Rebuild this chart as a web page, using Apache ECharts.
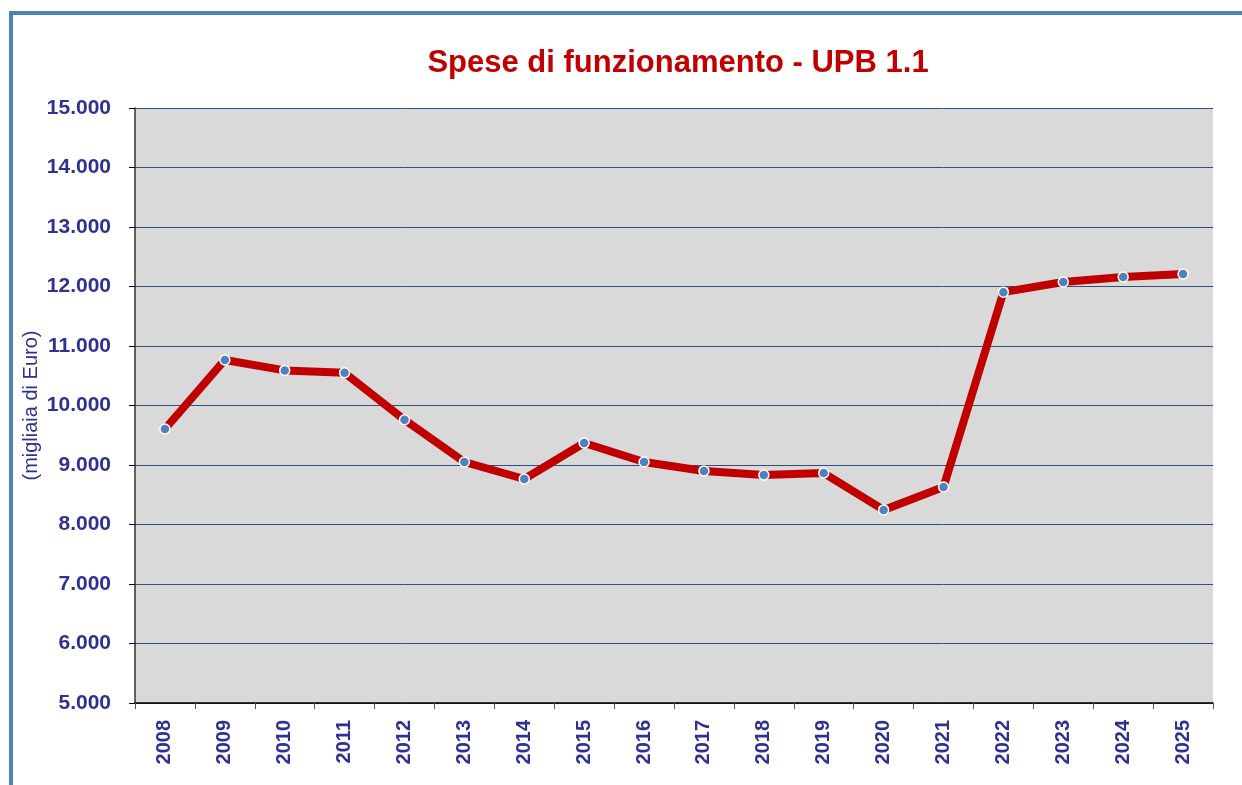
<!DOCTYPE html>
<html><head><meta charset="utf-8">
<script src="https://cdn.jsdelivr.net/npm/echarts@6/dist/echarts.min.js"></script>
<style>html,body{margin:0;padding:0;background:#fff}#c{width:1242px;height:785px}</style>
</head><body><div id="c"></div>
<script>
const categories = ['2008','2009','2010','2011','2012','2013','2014','2015','2016','2017','2018','2019','2020','2021','2022','2023','2024','2025'];
const values = [9605, 10765, 10590, 10550, 9760, 9050, 8765, 9370, 9050, 8900, 8830, 8865, 8245, 8630, 11905, 12075, 12160, 12210];
const titleText = 'Spese di funzionamento - UPB 1.1';
const yAxisName = '(migliaia di Euro)';

const chart = echarts.init(document.getElementById('c'));
const blue = '#2e3192';
chart.setOption({
  animation: false,
  title: {text: titleText, left: 673, top: 43, textAlign: 'center',
    textStyle: {color: '#c00000', fontFamily: 'Liberation Sans', fontWeight: 'bold', fontSize: 31}},
  graphic: [
    {type: 'rect', shape: {x: 9, y: 11, width: 1240, height: 4}, style: {fill: '#4f81bd'}},
    {type: 'rect', shape: {x: 9, y: 11, width: 4, height: 780}, style: {fill: '#4f81bd'}}
  ],
  grid: {left: 135, top: 108, width: 1078, height: 595, show: true, backgroundColor: '#d9d9d9', borderWidth: 0},
  xAxis: {type: 'category', data: categories, boundaryGap: true,
    axisLine: {lineStyle: {color: '#000', width: 1.5}},
    axisTick: {show: true, length: 6, lineStyle: {color: '#555'}},
    axisLabel: {rotate: 90, color: blue, fontFamily: 'Liberation Sans', fontWeight: 'bold', fontSize: 20, margin: 17}},
  yAxis: {type: 'value', min: 5000, max: 15000, interval: 1000,
    name: yAxisName, nameLocation: 'middle', nameGap: 104, nameRotate: 90, nameMoveOverlap: false,
    nameTextStyle: {color: blue, fontFamily: 'Liberation Sans', fontSize: 20, verticalAlign: 'middle'},
    axisLine: {show: true, lineStyle: {color: '#333', width: 1.5}},
    axisTick: {show: true, inside: false, length: 6, lineStyle: {color: '#000'}},
    axisLabel: {color: blue, fontFamily: 'Liberation Sans', fontWeight: 'bold', fontSize: 21, margin: 24,
      formatter: v => (v/1000).toFixed(3)},
    splitLine: {lineStyle: {color: '#2f4f80', width: 1}}},
  series: [{type: 'line', data: values, symbol: 'circle', symbolSize: 10,
    lineStyle: {color: '#c00000', width: 8},
    itemStyle: {color: '#4f81bd', borderColor: '#fff', borderWidth: 1.5}}]
});
</script></body></html>
